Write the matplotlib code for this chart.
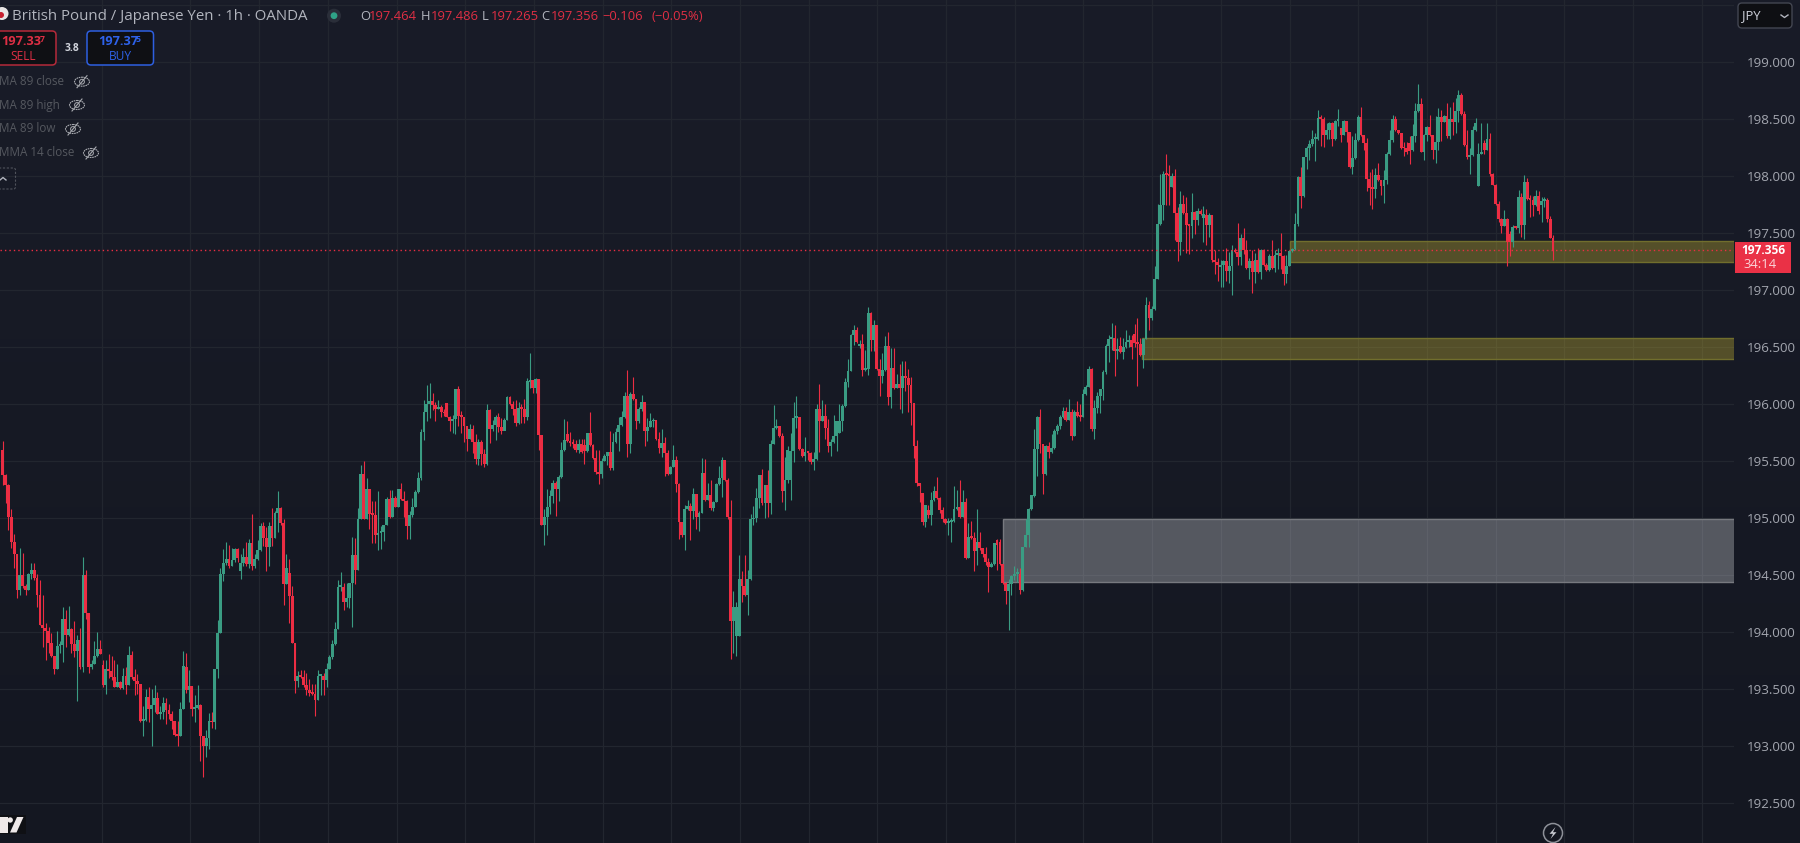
import numpy as np
import matplotlib
matplotlib.use("Agg")
import matplotlib.pyplot as plt
from matplotlib.patches import Rectangle, FancyBboxPatch, Circle, Ellipse, Polygon

closes = [
195.38,195.29,195.01,194.79,194.69,194.37,194.50,194.41,194.37,194.51,
194.55,194.48,194.33,194.06,194.04,194.01,193.91,193.79,193.68,193.88,
193.89,194.12,193.98,194.03,193.90,193.84,193.93,193.70,194.50,194.17,
193.70,193.72,193.79,193.85,193.81,193.54,193.68,193.66,193.61,193.52,
193.56,193.51,193.62,193.54,193.80,193.61,193.57,193.55,193.22,193.23,
193.43,193.33,193.36,193.42,193.28,193.30,193.38,193.32,193.28,193.22,
193.10,193.09,193.33,193.70,193.49,193.53,193.33,193.34,193.36,193.09,
193.00,193.07,193.22,193.21,193.68,193.99,194.51,194.605,194.64,194.58,
194.63,194.73,194.65,194.605,194.66,194.60,194.78,194.58,194.64,194.72,
194.93,194.83,194.75,194.93,194.83,195.05,195.09,194.96,194.42,194.56,
194.32,193.91,193.57,193.62,193.61,193.54,193.49,193.465,193.46,193.41,
193.62,193.62,193.58,193.68,193.78,193.90,194.03,194.40,194.40,194.27,
194.30,194.43,194.68,194.55,194.99,195.39,194.99,195.26,195.04,195.03,
194.85,194.87,194.88,194.94,195.17,195.01,195.18,195.10,195.26,195.17,
195.15,194.93,195.03,195.10,195.23,195.35,195.76,195.93,196.00,196.03,
195.99,195.96,195.98,195.93,195.92,195.89,195.85,195.87,196.13,195.90,
195.89,195.81,195.70,195.78,195.67,195.52,195.67,195.56,195.48,195.95,
195.78,195.82,195.89,195.80,195.77,195.86,196.06,196.00,195.96,195.84,
195.97,195.96,195.89,196.20,196.21,196.14,196.22,195.73,194.94,195.01,
195.10,195.20,195.31,195.26,195.36,195.60,195.69,195.68,195.66,195.65,
195.60,195.65,195.58,195.59,195.75,195.64,195.53,195.41,195.39,195.50,
195.55,195.58,195.44,195.67,195.76,195.82,195.89,196.07,195.65,196.09,
196.05,195.85,195.96,196.02,195.77,195.80,195.85,195.86,195.70,195.62,
195.66,195.57,195.39,195.45,195.51,195.30,194.97,194.85,195.08,195.11,
195.06,195.21,195.01,195.05,195.40,195.16,195.20,195.09,195.14,195.30,
195.35,195.51,195.34,195.01,194.10,194.22,194.22,194.47,194.41,194.33,
194.47,194.99,195.00,195.18,195.38,195.13,195.29,195.13,195.65,195.79,
195.81,195.72,195.24,195.34,195.60,195.59,195.88,195.885,195.61,195.55,
195.58,195.57,195.49,195.52,195.96,195.85,195.90,195.79,195.63,195.67,
195.72,195.85,195.85,195.985,196.20,196.29,196.61,196.65,196.55,196.53,
196.30,196.31,196.80,196.56,196.70,196.31,196.25,196.30,196.51,196.06,
196.32,196.14,196.18,196.14,196.25,196.23,196.17,196.01,195.63,195.31,
195.28,194.97,195.12,195.03,195.16,195.24,195.18,195.07,194.99,194.96,
194.965,194.98,195.08,195.10,195.01,195.14,194.65,194.84,194.83,194.71,
194.79,194.74,194.69,194.62,194.57,194.60,194.78,194.77,194.60,194.43,
194.36,194.42,194.49,194.51,194.512,194.37,194.75,194.85,195.08,195.20,
195.61,195.89,195.65,195.39,195.63,195.58,195.62,195.77,195.81,195.89,
195.94,195.86,195.93,195.72,195.93,195.90,195.89,196.09,196.155,196.31,
195.78,195.965,196.07,196.13,196.28,196.515,196.57,196.58,196.47,196.48,
196.46,196.50,196.55,196.56,196.50,196.535,196.53,196.43,196.57,196.87,
196.76,196.84,197.10,197.58,197.75,198.02,198.01,198.00,198.00,197.68,
197.42,197.76,197.68,197.57,197.565,197.685,197.62,197.70,197.67,197.67,
197.57,197.66,197.27,197.25,197.22,197.22,197.26,197.17,197.21,197.35,
197.34,197.29,197.46,197.355,197.20,197.26,197.16,197.27,197.16,197.355,
197.22,197.18,197.30,197.20,197.31,197.33,197.30,197.14,197.21,197.345,
197.36,197.58,197.99,197.83,198.17,198.25,198.28,198.325,198.33,198.51,
198.50,198.36,198.41,198.47,198.325,198.485,198.49,198.36,198.485,198.39,
198.08,198.16,198.32,198.52,198.36,198.29,197.98,197.90,197.89,198.01,
197.97,197.915,197.97,198.196,198.32,198.50,198.41,198.38,198.25,198.245,
198.21,198.22,198.35,198.57,198.63,198.217,198.36,198.43,198.36,198.23,
198.30,198.52,198.48,198.53,198.35,198.50,198.48,198.57,198.71,198.55,
198.275,198.17,198.19,198.41,198.465,198.20,198.217,198.23,198.33,198.02,
197.925,197.76,197.626,197.565,197.626,197.427,197.427,197.553,197.55,197.816,
197.573,197.95,197.80,197.795,197.752,197.828,197.696,197.787,197.79,197.626,
197.462,197.356]

highs = [
195.68,195.39,195.30,195.08,194.86,194.69,194.74,194.70,194.42,194.52,
194.61,194.61,194.51,194.46,194.33,194.08,194.05,193.99,193.79,194.01,
193.92,194.22,194.20,194.23,194.04,194.10,193.98,194.04,194.66,194.55,
194.17,193.76,193.92,194.00,193.93,193.76,193.76,193.81,193.79,193.76,
193.72,193.57,193.69,193.70,193.88,193.84,193.68,193.63,193.55,193.35,
193.50,193.52,193.50,193.54,193.48,193.35,193.43,193.42,193.37,193.31,
193.22,193.22,193.39,193.84,193.82,193.67,193.53,193.45,193.54,193.37,
193.09,193.14,193.29,193.30,193.68,194.11,194.56,194.73,194.79,194.77,
194.74,194.74,194.74,194.69,194.74,194.79,194.82,195.04,194.69,194.81,
194.96,194.97,194.92,194.97,195.09,195.06,195.24,195.10,194.99,194.69,
194.64,194.41,193.91,193.66,193.67,193.67,193.64,193.59,193.55,193.55,
193.67,193.63,193.64,193.73,193.80,193.93,194.09,194.46,194.53,194.43,
194.43,194.43,194.84,194.83,195.09,195.47,195.50,195.35,195.26,195.15,
195.15,195.24,194.93,194.94,195.19,195.25,195.25,195.20,195.26,195.31,
195.24,195.16,195.06,195.18,195.25,195.41,195.78,196.04,196.17,196.19,
196.10,196.02,196.04,195.99,195.96,196.01,195.90,195.91,196.13,196.16,
195.94,195.89,195.81,195.83,195.82,195.74,195.70,195.69,195.61,196.00,
195.96,195.86,195.91,195.92,195.88,195.88,196.07,196.07,196.03,196.04,
196.02,196.00,196.05,196.23,196.45,196.21,196.23,196.22,195.73,195.08,
195.26,195.25,195.34,195.33,195.38,195.67,195.87,195.85,195.76,195.70,
195.69,195.70,195.70,195.70,195.75,195.93,195.65,195.60,195.60,195.53,
195.56,195.58,195.77,195.75,195.79,195.89,195.94,196.11,196.30,196.11,
196.24,196.05,195.98,196.08,196.01,195.88,195.92,195.88,195.85,195.76,
195.78,195.71,195.60,195.46,195.64,195.55,195.31,194.97,195.12,195.16,
195.13,195.27,195.21,195.06,195.53,195.52,195.31,195.34,195.15,195.31,
195.46,195.54,195.49,195.35,195.16,194.36,194.27,194.68,194.54,194.68,
194.55,195.04,195.11,195.27,195.38,195.43,195.29,195.42,195.69,195.99,
195.87,195.81,195.75,195.54,195.63,195.75,196.02,196.07,195.88,195.62,
195.71,195.59,195.58,195.58,196.00,196.18,196.04,196.00,195.87,195.70,
195.91,195.85,196.00,196.00,196.23,196.40,196.62,196.70,196.68,196.56,
196.62,196.48,196.85,196.81,196.74,196.70,196.40,196.45,196.60,196.63,
196.49,196.49,196.27,196.35,196.38,196.38,196.31,196.24,196.01,195.69,
195.31,195.22,195.12,195.12,195.23,195.28,195.36,195.19,195.10,195.00,
195.00,195.00,195.28,195.25,195.34,195.25,195.18,194.96,194.98,194.88,
195.08,194.88,194.74,194.75,194.65,194.62,194.78,194.82,194.82,194.60,
194.44,194.47,194.50,194.58,194.56,194.56,194.75,194.99,195.09,195.20,
195.78,195.90,195.96,195.65,195.64,195.67,195.74,195.78,195.83,195.91,
195.98,195.98,196.05,195.96,195.95,196.03,196.00,196.13,196.17,196.34,
196.32,196.04,196.11,196.13,196.30,196.53,196.61,196.71,196.70,196.585,
196.59,196.585,196.65,196.61,196.61,196.705,196.755,196.58,196.58,196.94,
196.91,196.86,197.21,197.76,198.02,198.05,198.20,198.10,198.03,198.06,
197.73,197.87,197.84,197.82,197.58,197.85,197.70,197.72,197.71,197.74,
197.71,197.68,197.66,197.35,197.28,197.27,197.27,197.37,197.34,197.40,
197.37,197.59,197.49,197.55,197.44,197.28,197.355,197.33,197.37,197.36,
197.36,197.24,197.32,197.44,197.35,197.37,197.50,197.31,197.31,197.35,
197.37,197.68,198.00,198.08,198.17,198.27,198.32,198.41,198.38,198.58,
198.54,198.52,198.465,198.48,198.48,198.49,198.59,198.42,198.49,198.485,
198.39,198.35,198.38,198.54,198.605,198.36,198.34,198.04,198.06,198.07,
198.12,197.97,198.056,198.217,198.41,198.54,198.53,198.41,198.38,198.30,
198.30,198.35,198.46,198.64,198.81,198.685,198.37,198.44,198.54,198.36,
198.53,198.60,198.58,198.54,198.64,198.605,198.65,198.685,198.76,198.73,
198.57,198.41,198.25,198.44,198.51,198.295,198.465,198.32,198.465,198.38,
198.03,197.93,197.78,197.63,197.705,197.63,197.52,197.57,197.567,197.88,
197.857,198.01,197.983,197.837,197.828,197.88,197.875,197.82,197.82,197.807,
197.65,197.486]

lows = [
195.29,195.13,194.90,194.74,194.56,194.30,194.33,194.39,194.33,194.37,
194.47,194.46,194.22,194.06,193.87,193.76,193.82,193.78,193.63,193.68,
193.82,193.74,193.87,193.97,193.82,193.78,193.40,193.68,193.65,194.12,
193.64,193.68,193.72,193.78,193.81,193.52,193.46,193.60,193.58,193.52,
193.52,193.50,193.50,193.46,193.54,193.59,193.45,193.46,193.21,193.09,
193.22,193.21,193.00,193.30,193.28,193.24,193.24,193.20,193.24,193.15,
193.09,193.00,193.09,193.33,193.47,193.39,193.27,193.21,193.33,192.87,
192.73,192.91,192.98,193.16,193.15,193.60,193.99,194.45,194.59,194.56,
194.58,194.62,194.62,194.47,194.58,194.58,194.56,194.55,194.56,194.63,
194.71,194.76,194.54,194.58,194.76,194.83,194.88,194.94,194.24,194.42,
194.08,193.91,193.47,193.52,193.60,193.52,193.45,193.44,193.45,193.27,
193.41,193.45,193.45,193.52,193.68,193.77,193.89,194.03,194.36,194.20,
194.22,194.21,194.05,194.42,194.55,194.99,194.99,194.99,194.91,194.78,
194.78,194.72,194.73,194.80,194.94,195.00,195.01,195.10,195.10,195.16,
195.01,194.82,194.82,195.01,195.10,195.22,195.34,195.69,195.85,195.88,
195.95,195.85,195.96,195.89,195.90,195.89,195.77,195.75,195.74,195.81,
195.75,195.67,195.59,195.70,195.57,195.48,195.47,195.47,195.45,195.47,
195.66,195.77,195.69,195.76,195.74,195.78,195.86,195.99,195.91,195.81,
195.83,195.84,195.84,195.86,196.14,196.10,196.10,195.60,194.94,194.77,
194.85,195.04,195.13,195.02,195.15,195.35,195.59,195.67,195.63,195.62,
195.58,195.57,195.57,195.48,195.58,195.63,195.52,195.39,195.30,195.35,
195.50,195.47,195.42,195.42,195.66,195.59,195.81,195.88,195.54,195.57,
196.04,195.78,195.84,195.94,195.63,195.68,195.80,195.80,195.69,195.57,
195.54,195.37,195.38,195.39,195.45,195.23,194.82,194.84,194.72,195.07,
194.81,194.99,194.91,194.89,195.05,195.15,195.16,195.07,195.06,195.14,
195.29,195.19,195.33,194.99,193.77,193.82,193.79,193.97,194.27,194.32,
194.15,194.46,194.94,194.97,195.09,195.12,195.00,195.01,195.04,195.65,
195.78,195.71,195.14,195.07,195.31,195.16,195.49,195.79,195.60,195.54,
195.50,195.51,195.48,195.42,195.51,195.58,195.85,195.70,195.58,195.55,
195.66,195.59,195.75,195.77,195.98,196.15,196.29,196.52,196.54,196.49,
196.25,196.29,196.26,196.47,196.47,196.30,196.07,196.19,196.29,195.99,
195.97,196.13,196.14,195.96,195.92,196.12,195.93,195.82,195.53,195.28,
195.14,194.94,194.92,195.00,194.94,195.15,195.17,195.05,194.97,194.95,
194.85,194.79,194.97,195.07,195.00,195.01,194.64,194.65,194.82,194.54,
194.59,194.72,194.66,194.59,194.35,194.57,194.59,194.55,194.59,194.42,
194.25,194.02,194.33,194.46,194.44,194.34,194.36,194.75,194.75,195.07,
195.19,195.37,195.57,195.21,195.38,195.53,195.57,195.61,195.74,195.78,
195.88,195.85,195.86,195.69,195.72,195.89,195.85,195.89,196.08,196.15,
195.77,195.70,195.92,195.92,196.04,196.27,196.37,196.48,196.25,196.40,
196.45,196.40,196.49,196.50,196.40,196.50,196.16,196.42,196.32,196.57,
196.65,196.74,196.83,197.10,197.57,197.62,197.75,197.75,197.91,197.44,
197.26,197.31,197.67,197.33,197.32,197.46,197.49,197.57,197.66,197.42,
197.40,197.47,197.25,197.14,197.08,197.03,197.03,197.08,197.06,196.96,
197.33,197.22,197.22,197.32,197.19,197.10,196.98,197.06,197.15,197.10,
197.21,197.17,197.17,197.19,197.16,197.19,197.19,197.05,197.06,197.21,
197.34,197.35,197.56,197.72,197.82,198.06,198.14,198.27,198.13,198.32,
198.27,198.26,198.33,198.33,198.27,198.32,198.44,198.30,198.36,198.30,
198.07,198.02,198.15,198.31,198.35,198.23,197.875,197.75,197.71,197.81,
197.96,197.84,197.77,197.93,198.19,198.30,198.40,198.37,198.24,198.18,
198.20,198.11,198.225,198.30,198.56,198.21,198.14,198.31,198.35,198.15,
198.12,198.23,198.31,198.48,198.34,198.33,198.36,198.38,198.48,198.54,
198.27,198.15,198.02,198.18,198.40,197.915,198.20,198.20,198.23,198.00,
197.92,197.75,197.60,197.506,197.56,197.217,197.30,197.383,197.54,197.50,
197.47,197.45,197.795,197.646,197.655,197.74,197.67,197.597,197.73,197.60,
197.46,197.265]

first_open = 195.60
# bars that did not open at the previous close (bar index: open)
gap_opens = {35:193.71, 83:194.54, 100:194.52, 155:196.01, 197:195.74, 203:195.64,
             256:193.97, 257:193.97, 275:195.34, 292:195.75, 299:196.51, 321:195.22,
             323:195.07, 347:194.81, 348:194.79, 390:196.51, 395:196.62, 408:197.91,
             419:197.63, 420:197.66, 425:197.205, 467:198.42, 491:198.29, 492:198.235,
             515:197.915, 517:198.295, 526:197.494, 530:197.82, 537:197.75, 539:197.793}

price_ticks = [199.0,198.5,198.0,197.5,197.0,196.5,196.0,195.5,195.0,194.5,194.0,193.5,193.0,192.5]
grid_prices = [199.5] + price_ticks
time_grid = [34.8,65.5,89.6,113.5,137.6,161.3,185.4,209.5,233.2,257.3,281.4,305.1,329.2,
             353.3,377.0,401.1,425.2,449.2,473.0,497.0,521.1,544.9,568.9,593.0]
last_price = 197.356
zones = [  # left bar, low price, high price, kind
    (449.2,197.251,197.43,'y'),
    (397.6,196.40,196.579,'y'),
    (349.1,194.444,194.99,'g')]

closes = np.array(closes); highs = np.array(highs); lows = np.array(lows)
n = len(closes)
assert len(highs)==n and len(lows)==n, (n,len(highs),len(lows))
opens = np.r_[first_open, closes[:-1]]
for k,v in gap_opens.items():
    opens[k]=v
idx = np.arange(n)

W,H = 1800,843
fig = plt.figure(figsize=(W/100,H/100),dpi=100)

# background gradient
bg = fig.add_axes([0,0,1,1],zorder=0); bg.axis('off')
top = np.array([25,28,40])/255; bot = np.array([20,23,33])/255
t = np.linspace(0,1,256)[:,None,None]
bg.imshow(top*(1-t)+bot*t,aspect='auto',extent=[0,1,0,1])

PANE = 1734
ax = fig.add_axes([0,0,PANE/W,1],zorder=1)
ax.patch.set_alpha(0)
S = 2.8656; X0 = 2.7
ax.set_xlim(-X0/S,(PANE-X0)/S)
ax.set_ylim(199-(H-62.3)/114,199+62.3/114)
for s in ax.spines.values(): s.set_visible(False)
ax.set_xticks([])
ax.yaxis.tick_right()
ax.set_yticks(price_ticks,[f"{p:.3f}" for p in price_ticks],family='Open Sans',fontsize=9.6,color='#a3a6af')
ax.tick_params(axis='y',length=0,pad=9)
GRID='#22262f'
for p in grid_prices:
    ax.axhline(p,color=GRID,lw=.9,zorder=1)
for x in time_grid:
    ax.axvline(x,color=GRID,lw=.9,zorder=1)

for x0,lo,hi,k in zones:
    fc,ec = ((200/255,180/255,50/255,.35),'#716e2d') if k=='y' else ((182/255,185/255,190/255,.40),'#77797f')
    ax.add_patch(Rectangle((x0,lo),(PANE-X0)/S-x0+2,hi-lo,facecolor=fc,edgecolor=ec,lw=1,zorder=2))

RED='#EC2D43'; GREEN='#3A9C83'
up = closes>=opens
cols = np.where(up,GREEN,RED)
ax.vlines(idx,lows,highs,colors=cols,lw=0.8,zorder=3)
bodyh = np.maximum(np.abs(closes-opens),0.016)
ax.bar(idx,bodyh,bottom=np.minimum(opens,closes),width=0.98,color=cols,lw=0,zorder=4)
ax.axhline(last_price,color=RED,lw=1,ls=(0,(1,2.2)),zorder=5)

# chrome overlay in pixel coordinates
ov = fig.add_axes([0,0,1,1],zorder=2); ov.axis('off'); ov.patch.set_alpha(0)
ov.set_xlim(0,W); ov.set_ylim(H,0)
F='Open Sans'
def T(x,y,s,c,size,w='normal',ha='left',alpha=1):
    ov.text(x,y,s,color=c,fontsize=size,fontweight=w,ha=ha,va='center',family=F,alpha=alpha)
def box(x0,y0,x1,y1,fc,ec,lw=1,r=4,ls='-'):
    ov.add_patch(FancyBboxPatch((x0+r,y0+r),x1-x0-2*r,y1-y0-2*r,boxstyle=f"round,pad={r},rounding_size={r}",fc=fc,ec=ec,lw=lw,ls=ls))

# header
ov.add_patch(Circle((2,13.5),6.5,fc='#e9e6e6',ec='none'))
ov.add_patch(Circle((1,15),3,fc='#c8202f',ec='none'))
T(12,16,"British Pound / Japanese Yen · 1h · OANDA",'#b2b5be',10.85)
ov.add_patch(Circle((334,15.7),7,fc='#2a2e39',ec='none'))
ov.add_patch(Circle((334,15.7),3.4,fc='#2fa287',ec='none'))
HRED='#df2f44'
for x,vx,l,v in [(360,369.3,'O','197.464'),(421,431,'H','197.486'),(482,490.6,'L','197.265'),(541.5,551,'C','197.356')]:
    T(x,16,l,'#b2b5be',9.4); T(vx,16,v,HRED,9.4)
T(602,16,"−0.106",HRED,9.4); T(651,16,"(−0.05%)",HRED,9.4)

# buy / sell
box(-6,31,56,65,'#0f1014','#b52a3a',lw=1.1)
T(1.5,41.5,"197.33",HRED,9.2,'bold'); T(39.5,39.5,"7",HRED,6.2,'bold')
T(23,56,"SELL",HRED,8.6,ha='center')
T(71.5,48.5,"3.8",'#d1d4dc',7.4,'bold',ha='center')
box(87,31,153.5,65,'#0f1014','#2e5fe0',lw=1.1)
T(98,41.5,"197.37",'#2e62ea',9.2,'bold'); T(136,39.5,"5",'#2e62ea',6.2,'bold')
T(120,56,"BUY",'#2e62ea',8.6,ha='center')

# hidden indicators
for y,s,ex in [(81.7,"MA 89 close",82),(105,"MA 89 high",77),(129,"MA 89 low",73),(153,"MMA 14 close",91)]:
    T(-1,y,s,'#55585f',8.4)
    ov.add_patch(Ellipse((ex,y),15,9,fc='none',ec='#a8aab0',lw=0.8,ls=(0,(1.5,.6))))
    ov.plot([ex-5,ex+5],[y+6,y-6],color='#a8aab0',lw=.8)
    ov.add_patch(Circle((ex,y),2.4,fc='none',ec='#a8aab0',lw=.7))
box(-6,168,15.5,189,'none','#50535c',lw=.8,r=2,ls=(0,(2,1.5)))
ov.plot([0,3,6],[180,177.5,180],color='#b2b5be',lw=1)

# currency selector
box(1738,3,1792,28,'#0e0f13','#434651',lw=1,r=4)
T(1742,15.5,"JPY",'#cfd2dc',9.4)
ov.plot([1781,1784.5,1788],[15,17.5,15],color='#b2b5be',lw=1)

# last price label
ov.add_patch(Rectangle((1735,242),56,31,fc='#EA3146',ec='none'))
T(1785,251,"197.356",'#ffffff',8.6,'bold',ha='right')
T(1743,265,"34:14",'#fbd3d8',9.4)

# logo
ov.add_patch(Rectangle((0,815),26,19,fc='#0f1014',ec='none'))
ov.add_patch(Rectangle((0,817),7.5,15.5,fc='#efe9e9',ec='none'))
ov.add_patch(Circle((10.2,820),2.7,fc='#efe9e9',ec='none'))
ov.add_patch(Polygon([(17,817),(23.5,817),(16.5,832.5),(10,832.5)],fc='#efe9e9',ec='none'))

# lightning
ov.add_patch(Circle((1553,833),9.5,fc='none',ec='#8d9098',lw=1.1))
ov.add_patch(Polygon([(1555.5,827),(1549.5,833.8),(1553,833.8),(1550.5,839),(1556.5,832.2),(1553,832.2)],fc='#c9cbd2',ec='none'))

fig.savefig('out.png',dpi=100,facecolor='#161a25')
